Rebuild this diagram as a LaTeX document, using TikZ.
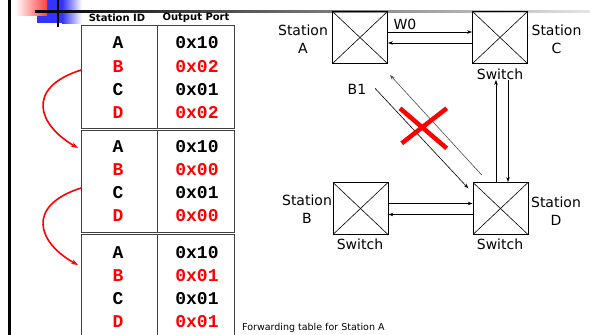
\documentclass[tikz,border=0pt]{standalone}
\usepackage{fontspec}
\setmainfont{DejaVu Sans}
\newfontfamily\monob{Liberation Mono}
\usetikzlibrary{arrows.meta}
\begin{document}
\begin{tikzpicture}[x=1pt,y=-1pt,
  tbl/.style={draw=black!75, line width=1pt, minimum width=153pt, inner sep=0pt},
  cell/.style={font=\monob\bfseries\fontsize{18}{18}\selectfont, inner sep=0pt},
  hot/.style={cell, text=red},
  hdr/.style={font=\bfseries\fontsize{10}{12}\selectfont, inner sep=0pt},
  sw/.style={draw, line width=0.8pt, minimum width=55pt, minimum height=52pt, inner sep=0pt,
    path picture={\draw[line width=0.6pt] (path picture bounding box.north west) -- (path picture bounding box.south east)
      (path picture bounding box.north east) -- (path picture bounding box.south west);}},
  lbl/.style={font=\fontsize{14}{18}\selectfont, align=center, inner sep=0pt},
  link/.style={line width=0.6pt, -{Stealth[length=5pt,width=3.5pt]}},
  redarrow/.style={red, line width=1.6pt, -{Stealth[length=7pt,width=5pt]}}
]
\useasboundingbox (0,0) rectangle (590,335);
% slide decoration
\fill[blue!80] (37,0) rectangle (62,23);
\shade[left color=blue!80, right color=white] (62,0) rectangle (82,23);
\shade[left color=white, right color=red!75] (15,0) rectangle (47,15);
\shade[left color=black, right color=black!10] (35,10.2) rectangle (590,12);
\draw[line width=1.2pt] (58,0) -- (58,27);
\draw[line width=2.2pt] (9.5,0) -- (9.5,335);

% tables
\node[hdr] (h1) at (117,18) {Station ID};
\node[hdr] (h2) at (196,18) {Output Port};
\node[tbl, minimum height=103pt] (t1) at (157.5,76.5) {};
\node[tbl, minimum height=102pt] (t2) at (157.5,181) {};
\node[tbl, minimum height=111pt] (t3) at (157.5,289.5) {};
\draw[black!75, line width=1pt] (t1.north) -- (t1.south) (t2.north) -- (t2.south) (t3.north) -- (t3.south);

\node[cell] (a1) at (118,43) {A}; \node[cell] (pa1) at (197,43) {0x10};
\node[hot]  (b1) at (118,66.5) {B}; \node[hot] (pb1) at (197,66.5) {0x02};
\node[cell] (c1) at (118,90) {C}; \node[cell] (pc1) at (197,90) {0x01};
\node[hot]  (d1) at (118,113) {D}; \node[hot] (pd1) at (197,113) {0x02};

\node[cell] (a2) at (118,147) {A}; \node[cell] (pa2) at (197,147) {0x10};
\node[hot]  (b2) at (118,170) {B}; \node[hot] (pb2) at (197,170) {0x00};
\node[cell] (c2) at (118,193) {C}; \node[cell] (pc2) at (197,193) {0x01};
\node[hot]  (d2) at (118,216) {D}; \node[hot] (pd2) at (197,216) {0x00};

\node[cell] (a3) at (118,253) {A}; \node[cell] (pa3) at (197,253) {0x10};
\node[hot]  (b3) at (118,276) {B}; \node[hot] (pb3) at (197,276) {0x01};
\node[cell] (c3) at (118,299) {C}; \node[cell] (pc3) at (197,299) {0x01};
\node[hot]  (d3) at (118,322) {D}; \node[hot] (pd3) at (197,322) {0x01};

% red curved arrows
\coordinate (s1) at (81,70);  \coordinate (e1) at (78,148);
\coordinate (s2) at (81,188); \coordinate (e2) at (78,265);
\draw[redarrow] (s1) .. controls (25,88) and (38,125) .. (e1);
\draw[redarrow] (s2) .. controls (25,206) and (38,243) .. (e2);

\node[font=\fontsize{9.5}{11}\selectfont, anchor=west, inner sep=0pt] (cap) at (242,328) {Forwarding table for Station A};

% network
\node[sw] (A) at (360,37.5) {};
\node[sw] (C) at (500,37.5) {};
\node[sw] (B) at (360.5,208.5) {};
\node[sw] (D) at (500.5,208.5) {};

\node[lbl] (lA) at (303,39.5) {Station\\A};
\node[lbl] (lC) at (556.5,39.5) {Station\\C};
\node[lbl] (lB) at (307,209) {Station\\B};
\node[lbl] (lD) at (556,211) {Station\\D};
\node[lbl] (sC) at (500,74) {Switch};
\node[lbl] (sB) at (360,244) {Switch};
\node[lbl] (sD) at (500,244) {Switch};
\node[lbl] (w0) at (405,24) {W0};
\node[lbl] (bl) at (357,89) {B1};

\draw[link] ([yshift=5.5pt]A.east) -- ([yshift=5.5pt]C.west);
\draw[link] ([yshift=-5.5pt]C.west) -- ([yshift=-5.5pt]A.east);
\draw[link] ([yshift=5pt]B.east) -- ([yshift=5pt]D.west);
\draw[link] ([yshift=-6pt]D.west) -- ([yshift=-6pt]B.east);

\coordinate (cu) at (496,80);
\coordinate (cd) at (508,80);
\draw[link] ([xshift=-4.5pt]D.north) -- (cu);
\draw[link] (cd) -- ([xshift=7.5pt]D.north);

\coordinate (g1) at (481.7,175); \coordinate (g2) at (390,75);
\coordinate (k1) at (375,88.3);  \coordinate (k2) at (468.3,188.3);
\draw[link, black!70] (g1) -- (g2);
\draw[link] (k1) -- (k2);

\draw[red, line width=4.5pt] (400,108.3) -- (446.7,148.3) (446.7,108.3) -- (401.7,143.3);
\end{tikzpicture}
\end{document}
